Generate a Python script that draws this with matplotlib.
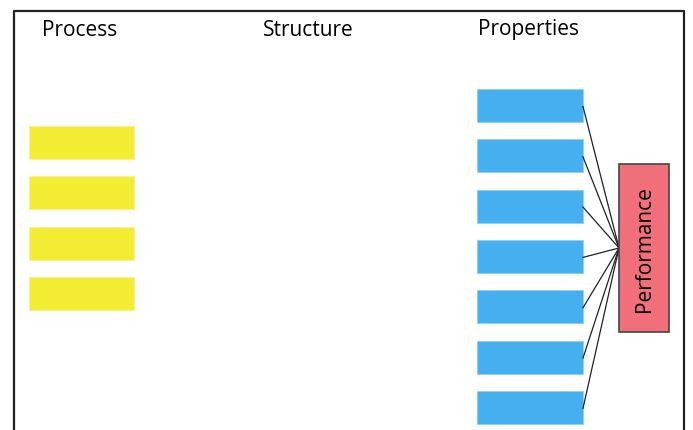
import matplotlib
matplotlib.use("Agg")
import matplotlib.pyplot as plt
from matplotlib.patches import Rectangle

# Data
columns = ["Process", "Structure", "Properties"]
process_items = ["p1", "p2", "p3", "p4"]
property_items = ["q1", "q2", "q3", "q4", "q5", "q6", "q7"]
target = "Performance"

# Layout (pixel coordinates)
W, H = 693, 431
col_x = [80, 308, 528]
row_pitch = 50.3
box_h = 33
yellow = "#F4EC33"
blue = "#46AFEF"
pink = "#F06F7A"

fig = plt.figure(figsize=(W / 100, H / 100), dpi=100)
ax = fig.add_axes([0, 0, 1, 1])
ax.set_xlim(0, W)
ax.set_ylim(H, 0)
ax.axis("off")
plt.rcParams["font.family"] = ["Open Sans", "DejaVu Sans"]

# outer frame (bottom edge is off the picture)
ax.plot([14, 14, 684, 684], [H + 5, 12, 12, H + 5], color="#222222", lw=1.6,
        clip_on=False)

for name, x in zip(columns, col_x):
    ax.text(x, 30, name, ha="center", va="center", fontsize=15,
            family=["Open Sans", "DejaVu Sans"])

# process boxes
for i, _ in enumerate(process_items):
    y0 = 127 + i * row_pitch
    ax.add_patch(Rectangle((29, y0), 105, box_h, facecolor=yellow,
                           edgecolor="#F8F090", lw=0.6))

# performance box
px0, py0, pw, ph = 619, 165, 50, 168
ax.add_patch(Rectangle((px0, py0), pw, ph, facecolor=pink,
                       edgecolor="#444444", lw=1.2, zorder=3))
ax.text(px0 + pw / 2, py0 + ph / 2, target, rotation=90, ha="center",
        va="center", fontsize=15, zorder=4,
        family=["Open Sans", "DejaVu Sans"])

# property boxes and connecting lines
hub = (px0, 249)
for i, _ in enumerate(property_items):
    y0 = 90 + i * row_pitch
    ax.add_patch(Rectangle((477, y0), 106, box_h, facecolor=blue,
                           edgecolor="#8FD0F7", lw=0.6))
    ax.plot([583, hub[0]], [y0 + box_h / 2 + 1, hub[1]], color="#222222",
            lw=0.9, zorder=2)

fig.savefig("out.png", dpi=100)
